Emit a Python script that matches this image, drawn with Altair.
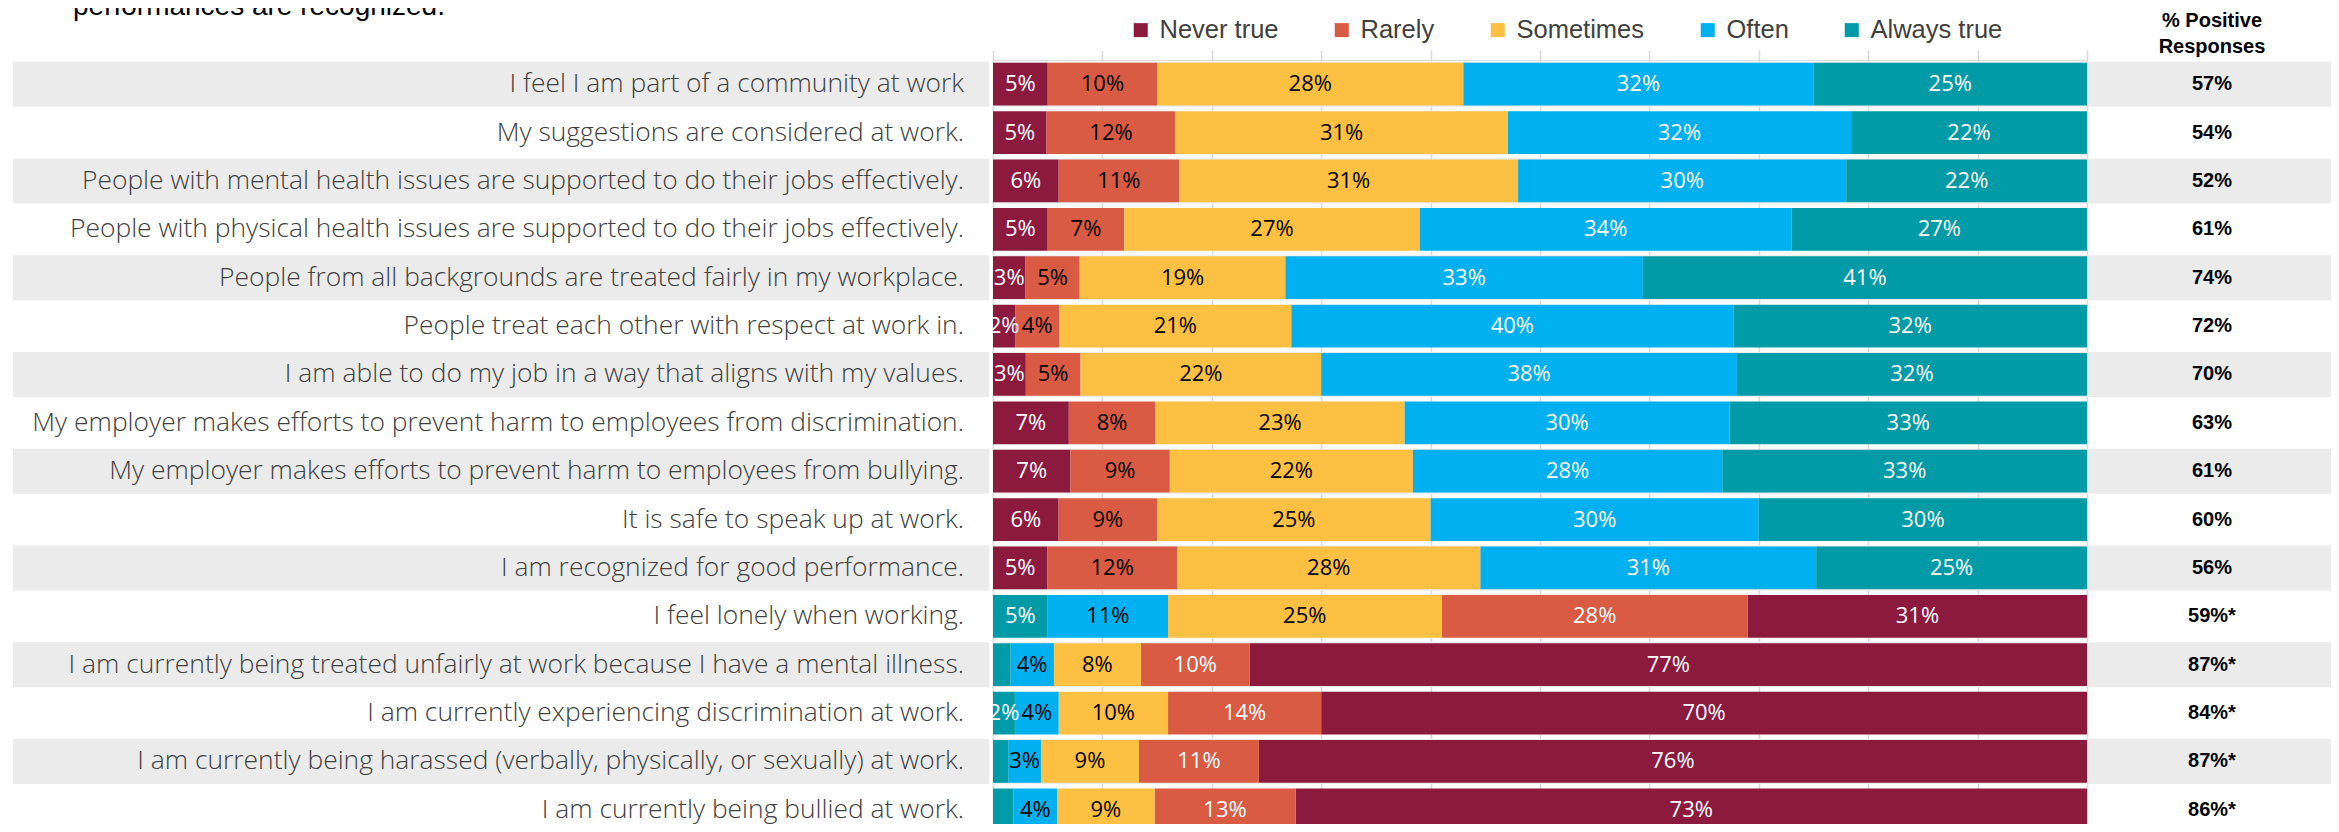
import altair as alt
import pandas as pd

rows = [
    "I feel I am part of a community at work",
    "My suggestions are considered at work.",
    "People with mental health issues are supported to do their jobs effectively.",
    "People with physical health issues are supported to do their jobs effectively.",
    "People from all backgrounds are treated fairly in my workplace.",
    "People treat each other with respect at work in.",
    "I am able to do my job in a way that aligns with my values.",
    "My employer makes efforts to prevent harm to employees from discrimination.",
    "My employer makes efforts to prevent harm to employees from bullying.",
    "It is safe to speak up at work.",
    "I am recognized for good performance.",
    "I feel lonely when working.",
    "I am currently being treated unfairly at work because I have a mental illness.",
    "I am currently experiencing discrimination at work.",
    "I am currently being harassed (verbally, physically, or sexually) at work.",
    "I am currently being bullied at work.",
]
categories = ["Never true", "Rarely", "Sometimes", "Often", "Always true"]
colors = ["#8C1A3F", "#DA5B44", "#FEC042", "#00B0F0", "#009BA6"]

never_true = [5, 5, 6, 5, 3, 2, 3, 7, 7, 6, 5, 31, 77, 70, 76, 73]
rarely = [10, 12, 11, 7, 5, 4, 5, 8, 9, 9, 12, 28, 10, 14, 11, 13]
sometimes = [28, 31, 31, 27, 19, 21, 22, 23, 22, 25, 28, 25, 8, 10, 9, 9]
often = [32, 32, 30, 34, 33, 40, 38, 30, 28, 30, 31, 11, 4, 4, 3, 4]
always_true = [25, 22, 22, 27, 41, 32, 32, 33, 33, 30, 25, 5, 1.6, 2, 1.4, 1.9]
positive = ["57%", "54%", "52%", "61%", "74%", "72%", "70%", "63%", "61%", "60%",
            "56%", "59%*", "87%*", "84%*", "87%*", "86%*"]
reverse_order = [False] * 11 + [True] * 5

subtitle_tail = "performances are recognized."
header_lines = ["% Positive", "Responses"]

records = []
for i, r in enumerate(rows):
    vals = [never_true[i], rarely[i], sometimes[i], often[i], always_true[i]]
    for j, c in enumerate(categories):
        pos = (5 - j) if reverse_order[i] else (j + 1)
        records.append({"row": r, "cat": c, "value": vals[j], "pos": pos})
df = pd.DataFrame(records)
rows_df = pd.DataFrame({"row": rows, "positive": positive,
                        "stripe": [i % 2 for i in range(len(rows))]})

W = 1094
H = 764
RANGE_H = 774
PAD_L, PAD_T, PAD_R = 985, 52, 244

y_scale = alt.Scale(domain=rows, range=[0, RANGE_H], paddingInner=0.07, paddingOuter=0.035)
x_scale = alt.Scale(domain=[0, 1], nice=False, zero=True)


def stacked(base):
    return (base
            .transform_joinaggregate(total="sum(value)", groupby=["row"])
            .transform_window(cum="sum(value)", groupby=["row"], sort=[alt.SortField("pos")],
                              frame=[None, 0])
            .transform_calculate(x1="(datum.cum - datum.value) / datum.total",
                                 x2="datum.cum / datum.total",
                                 mid="(datum.cum - datum.value / 2) / datum.total",
                                 lbl="format(datum.value, '.0f') + '%'",
                                 tc="(datum.pos == 2 || datum.pos == 3) ? '#000000' : '#FFFFFF'"))


Y = alt.Y("row:N", scale=y_scale, axis=None, sort=rows)

stripes_left = alt.Chart(rows_df).transform_filter("datum.stripe == 0").mark_bar(
    color="#EBEBEB").encode(
    y=Y,
    x=alt.value(-980),
    x2=alt.value(-4),
)
stripes_right = alt.Chart(rows_df).transform_filter("datum.stripe == 0").mark_bar(
    color="#EBEBEB").encode(
    y=Y,
    x=alt.value(0),
    x2=alt.value(W + PAD_R),
)

row_labels = alt.Chart(rows_df).mark_text(
    font="Open Sans", fontWeight=300, fontSize=26.4, baseline="middle", align="right",
    color="#404040").encode(
    y=Y, x=alt.value(-29), text="row:N")

bars = stacked(alt.Chart(df)).mark_bar(height=alt.RelativeBandSize(0.95)).encode(
    y=Y,
    x=alt.X("x1:Q", scale=x_scale,
            axis=alt.Axis(values=[i / 10 for i in range(11)], grid=True, labels=False,
                          ticks=False, domain=False, title=None, gridColor="#D9D9D9",
                          gridWidth=1.5, zindex=0)),
    x2="x2:Q",
    color=alt.Color("cat:N", scale=alt.Scale(domain=categories, range=colors),
                    legend=alt.Legend(orient="none", legendX=135, legendY=-43,
                                      direction="horizontal", title=None,
                                      symbolType="square", symbolSize=196,
                                      symbolStrokeWidth=0, symbolOpacity=1,
                                      labelFont="Liberation Sans", labelFontSize=25.5,
                                      labelColor="#404040", columnPadding=50,
                                      labelOffset=6, padding=0)),
)

labels = stacked(alt.Chart(df)).transform_filter("datum.value >= 2").mark_text(
    font="Open Sans", fontSize=22, baseline="middle", align="center").encode(
    y=Y,
    x=alt.X("mid:Q", scale=x_scale),
    text="lbl:N",
    fill=alt.Fill("tc:N", scale=None),
)

pos_text = alt.Chart(rows_df).mark_text(
    font="Liberation Sans", fontWeight="bold", fontSize=20, baseline="middle",
    align="center", color="#000000").encode(
    y=Y,
    x=alt.value(W + 125),
    text="positive:N",
)

header = alt.Chart(pd.DataFrame({"h": [0]})).mark_text(
    font="Liberation Sans", fontWeight="bold", fontSize=20, lineHeight=26,
    baseline="alphabetic", align="center", color="#000000").encode(
    x=alt.value(W + 125), y=alt.value(-33), text=alt.value(header_lines))

subtitle = alt.Chart(pd.DataFrame({"h": [0]})).mark_text(
    font="Liberation Sans", fontSize=28, baseline="alphabetic", align="left",
    color="#000000").encode(
    x=alt.value(-920), y=alt.value(-45), text=alt.value(subtitle_tail))

chart = alt.layer(stripes_left, stripes_right, row_labels, bars, labels, pos_text,
                  header, subtitle).properties(
    width=W, height=H,
    autosize=alt.AutoSizeParams(type="none"),
    padding={"left": PAD_L, "top": PAD_T, "right": PAD_R, "bottom": 0},
).configure_view(stroke=None).configure(background="#FFFFFF")

chart.save("out.html", embed_options={"renderer": "svg", "actions": False})
